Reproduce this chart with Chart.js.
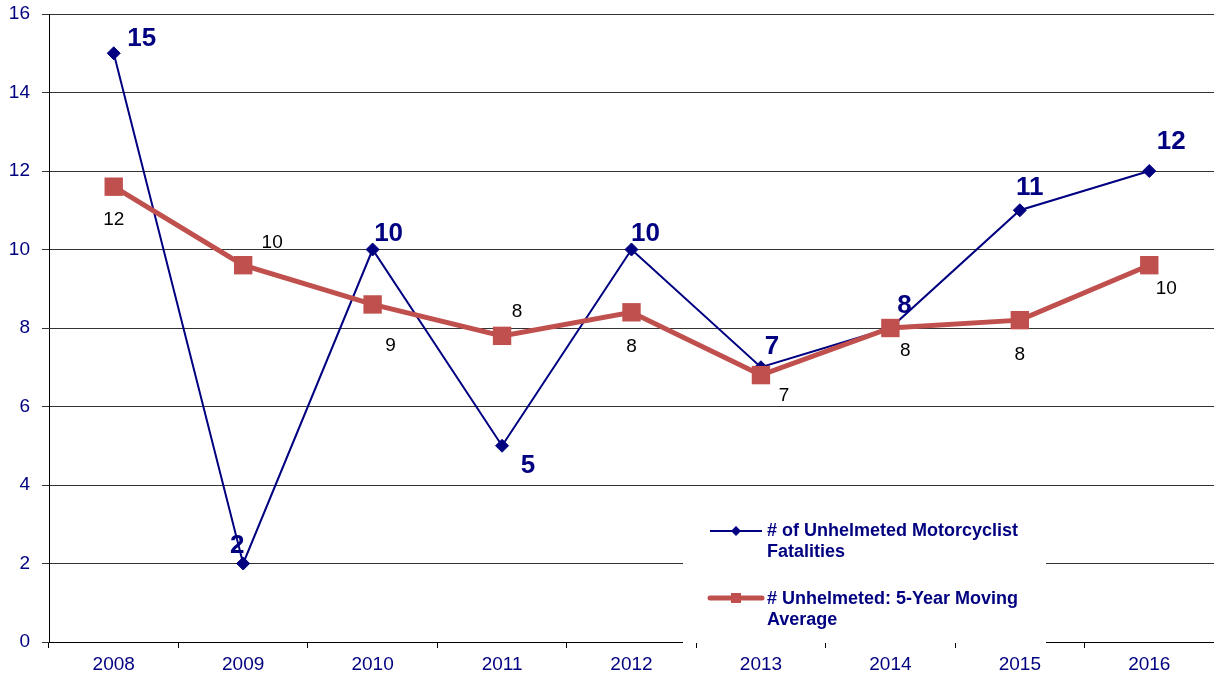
<!DOCTYPE html>
<html>
<head>
<meta charset="utf-8">
<script src="https://cdn.jsdelivr.net/npm/chart.js@4"></script>
<style>
  body { margin: 0; background: #fff; }
  #wrap { width: 1214px; height: 681px; }
</style>
</head>
<body>
<div id="wrap"><canvas id="chart" width="1214" height="681"></canvas></div>
<script>
// data
var years = ["2008", "2009", "2010", "2011", "2012", "2013", "2014", "2015", "2016"]
var fatalities = [15, 2, 10, 5, 10, 7, 8, 11, 12]
var movingAvg = [11.6, 9.6, 8.6, 7.8, 8.4, 6.8, 8.0, 8.2, 9.6]
var yMin = 0, yMax = 16, yStep = 2
var seriesNames = [
    ["# of Unhelmeted Motorcyclist", "Fatalities"],
    ["# Unhelmeted: 5-Year Moving", "Average"]
]

var NAVY = "#000080"
var RED = "#C0504D"
var FONT = "'Liberation Sans', Arial, sans-serif"

// where each value label sits relative to its point (pixels)
var blueOffsets = [[28, -14], [-6, -18], [16, -16], [26, 20], [14, -16], [11, -20], [14, -22], [10, -22], [22, -29]]
var redOffsets = [[0, 33], [29, -22], [18, 41], [15, -24], [0, 34], [23, 21], [15, 23], [0, 35], [17, 24]]

var valueLabels = {
    id: "valueLabels",
    afterDatasetsDraw(chart) {
        var ctx = chart.ctx
        ctx.save()
        ctx.textAlign = "center"
        ctx.textBaseline = "middle"

        var blue = chart.getDatasetMeta(0).data
        ctx.font = "bold 26px " + FONT
        ctx.fillStyle = NAVY
        blue.forEach((pt, i) => {
            ctx.fillText(String(fatalities[i]), pt.x + blueOffsets[i][0], pt.y + blueOffsets[i][1])
        })

        var red = chart.getDatasetMeta(1).data
        ctx.font = "19px " + FONT
        ctx.fillStyle = "#000"
        red.forEach((pt, i) => {
            ctx.fillText(String(Math.round(movingAvg[i])), pt.x + redOffsets[i][0], pt.y + redOffsets[i][1])
        })

        // legend box on top of the grid
        ctx.fillStyle = "#fff"
        ctx.fillRect(683, 506, 363, 137)

        ctx.textAlign = "left"
        ctx.font = "bold 18px " + FONT
        ctx.fillStyle = NAVY

        ctx.strokeStyle = NAVY
        ctx.lineWidth = 2
        ctx.beginPath(); ctx.moveTo(710, 531); ctx.lineTo(762, 531); ctx.stroke()
        ctx.beginPath()
        ctx.moveTo(736 - 5, 531); ctx.lineTo(736, 526); ctx.lineTo(736 + 5, 531); ctx.lineTo(736, 536)
        ctx.closePath(); ctx.fill()
        ctx.fillText(seriesNames[0][0], 767, 531)
        ctx.fillText(seriesNames[0][1], 767, 552)

        ctx.strokeStyle = RED
        ctx.lineWidth = 5
        ctx.lineCap = "round"
        ctx.beginPath(); ctx.moveTo(710, 598); ctx.lineTo(762, 598); ctx.stroke()
        ctx.fillStyle = RED
        ctx.fillRect(731, 593, 10, 10)
        ctx.fillStyle = NAVY
        ctx.fillText(seriesNames[1][0], 767, 599)
        ctx.fillText(seriesNames[1][1], 767, 620)
        ctx.restore()
    }
}

var myChart = new Chart(document.getElementById("chart"), {
    type: "line",
    data: {
        labels: years,
        datasets: [
            {
                label: seriesNames[0].join(" "),
                data: fatalities,
                borderColor: NAVY,
                backgroundColor: NAVY,
                borderWidth: 2,
                pointStyle: "rectRot",
                pointRadius: 6.5,
                pointBorderWidth: 1,
                tension: 0,
                order: 2
            },
            {
                label: seriesNames[1].join(" "),
                data: movingAvg,
                borderColor: RED,
                backgroundColor: RED,
                borderWidth: 5,
                pointStyle: "rect",
                pointRadius: 13,
                pointBorderWidth: 0,
                tension: 0,
                order: 1
            }
        ]
    },
    options: {
        responsive: false,
        animation: false,
        layout: { autoPadding: false, padding: { top: 14, right: 0, left: 0, bottom: 0 } },
        plugins: {
            legend: { display: false },
            tooltip: { enabled: false }
        },
        scales: {
            x: {
                offset: true,
                grid: {
                    offset: true,
                    drawOnChartArea: false,
                    drawTicks: true,
                    tickLength: 6,
                    color: "#000"
                },
                border: { color: "#000", width: 1 },
                ticks: {
                    color: NAVY,
                    font: { family: FONT, size: 19 },
                    padding: 5,
                    maxRotation: 0
                },
                afterFit(scale) {
                    scale.height = 39
                    scale.paddingLeft = 0
                    scale.paddingRight = 0
                }
            },
            y: {
                min: yMin,
                max: yMax,
                ticks: {
                    stepSize: yStep,
                    color: NAVY,
                    font: { family: FONT, size: 19 },
                    padding: 12
                },
                grid: {
                    color: "#333",
                    lineWidth: 1,
                    tickLength: 7
                },
                border: { color: "#000", width: 1 },
                afterFit(scale) {
                    scale.width = 49
                    scale.paddingTop = 0
                    scale.paddingBottom = 0
                }
            }
        }
    },
    plugins: [valueLabels]
})
</script>
</body>
</html>
